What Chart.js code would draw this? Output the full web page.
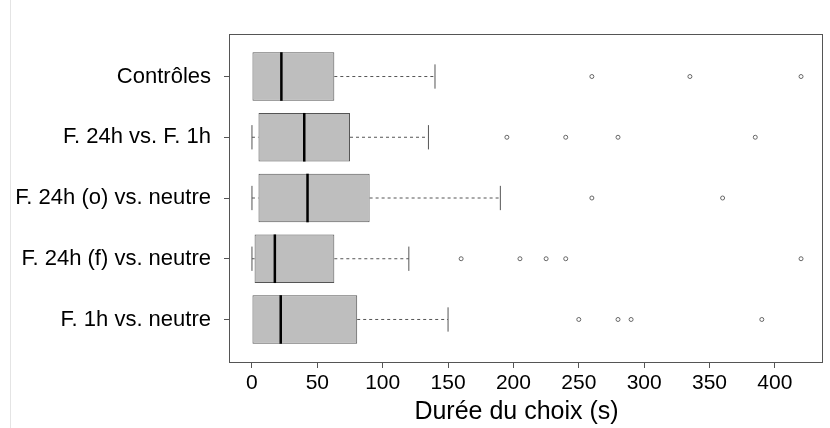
<!DOCTYPE html>
<html>
<head>
<meta charset="utf-8">
<script src="https://cdn.jsdelivr.net/npm/chart.js@4/dist/chart.umd.min.js"></script>
<style>
    body { margin: 0; background: #ffffff; }
    #cadre { position: relative; width: 830px; height: 428px; }
    #trait { position: absolute; left: 10px; top: 0; width: 1px; height: 428px; background: #e4e4e4; }
</style>
</head>
<body>
<div id="cadre">
    <div id="trait"></div>
    <canvas id="boites" width="830" height="428"></canvas>
</div>
<script>
const categories = ['Contrôles', 'F. 24h vs. F. 1h', 'F. 24h (o) vs. neutre', 'F. 24h (f) vs. neutre', 'F. 1h vs. neutre'];
const minimums = [0, 0, 0, 0, 0];
const quartile1 = [0, 5, 5, 2, 0];
const medianes = [22.5, 40, 42.5, 17.5, 22];
const quartile3 = [63, 75, 90, 63, 80.5];
const maximums = [140, 135, 190, 120, 150];
const atypiques = [
    [260, 335, 420],
    [195, 240, 280, 385],
    [260, 360],
    [160, 205, 225, 240, 420],
    [250, 280, 290, 390]
];
const ticksX = [0, 50, 100, 150, 200, 250, 300, 350, 400];
const rangs = [1, 2, 3, 4, 5];
const titreX = 'Durée du choix (s)';

const gris = '#555555';
const police = 'Liberation Sans, Arial, sans-serif';

window.onload = () => {
    desenharBoites();
}

// medianes, moustaches, cadre et titre de l'axe
const moustaches = {
    id: 'moustaches',
    afterDatasetsDraw(chart) {
        const ctx = chart.ctx;
        const x = chart.scales.x;
        const y = chart.scales.y;
        const zone = chart.chartArea;
        const unite = Math.abs(y.getPixelForValue(2) - y.getPixelForValue(1));

        ctx.save();
        for (let i = 0; i < categories.length; i++) {
            const yc = y.getPixelForValue(rangs[i]);
            const xq1 = x.getPixelForValue(quartile1[i]);
            const xq3 = x.getPixelForValue(quartile3[i]);
            const xmin = x.getPixelForValue(minimums[i]);
            const xmax = x.getPixelForValue(maximums[i]);

            ctx.strokeStyle = gris;
            ctx.lineWidth = 1;
            ctx.setLineDash([3, 3]);
            ctx.beginPath();
            ctx.moveTo(xq3, yc);
            ctx.lineTo(xmax, yc);
            if (xq1 > xmin) {
                ctx.moveTo(xmin, yc);
                ctx.lineTo(xq1, yc);
            }
            ctx.stroke();

            ctx.setLineDash([]);
            ctx.beginPath();
            ctx.moveTo(xmax, yc - unite * 0.2);
            ctx.lineTo(xmax, yc + unite * 0.2);
            if (xq1 > xmin) {
                ctx.moveTo(xmin, yc - unite * 0.2);
                ctx.lineTo(xmin, yc + unite * 0.2);
            }
            ctx.stroke();

            const xmed = x.getPixelForValue(medianes[i]);
            ctx.strokeStyle = '#000000';
            ctx.lineWidth = 2.5;
            ctx.beginPath();
            ctx.moveTo(xmed, yc - unite * 0.4);
            ctx.lineTo(xmed, yc + unite * 0.4);
            ctx.stroke();
        }

        ctx.strokeStyle = gris;
        ctx.lineWidth = 1;
        ctx.strokeRect(zone.left - 0.5, zone.top + 0.5, zone.right - zone.left, zone.bottom - zone.top);

        ctx.fillStyle = '#000000';
        ctx.font = '25px ' + police;
        ctx.textAlign = 'center';
        ctx.textBaseline = 'middle';
        ctx.fillText(titreX, (zone.left + zone.right) / 2 - 10, 412);
        ctx.restore();
    }
}

function desenharBoites() {
    const pontos = [];
    for (let i = 0; i < atypiques.length; i++) {
        for (let j = 0; j < atypiques[i].length; j++) {
            pontos.push({ x: atypiques[i][j], y: rangs[i] });
        }
    }

    const canvas = document.getElementById('boites');
    new Chart(canvas, {
        type: 'scatter',
        data: {
            datasets: [{
                type: 'bar',
                indexAxis: 'y',
                data: categories.map((c, i) => ({ y: rangs[i], x: [quartile1[i], quartile3[i]] })),
                backgroundColor: '#bebebe',
                borderColor: gris,
                borderWidth: 1,
                borderSkipped: false,
                categoryPercentage: 0.8,
                barPercentage: 1
            }, {
                type: 'scatter',
                data: pontos,
                pointRadius: 2,
                pointBorderWidth: 1,
                pointBorderColor: '#666666',
                pointBackgroundColor: '#ffffff'
            }]
        },
        options: {
            responsive: false,
            animation: false,
            layout: {
                padding: { top: 34, right: 7, left: 0, bottom: 0 }
            },
            scales: {
                x: {
                    type: 'linear',
                    min: -16.8,
                    max: 436.8,
                    offset: false,
                    afterBuildTicks: (scale) => {
                        scale.ticks = ticksX.map(v => ({ value: v }));
                    },
                    afterFit: (scale) => {
                        scale.height = 66;
                    },
                    border: { display: false },
                    grid: {
                        display: true,
                        drawOnChartArea: false,
                        drawTicks: true,
                        tickLength: 6,
                        tickColor: gris,
                        offset: false
                    },
                    ticks: {
                        color: '#000000',
                        padding: 3,
                        maxRotation: 0,
                        font: { family: police, size: 21 }
                    }
                },
                y: {
                    type: 'linear',
                    reverse: true,
                    min: 0.3,
                    max: 5.7,
                    offset: false,
                    afterBuildTicks: (scale) => {
                        scale.ticks = rangs.map(v => ({ value: v }));
                    },
                    afterFit: (scale) => {
                        scale.width = 230;
                    },
                    border: { display: false },
                    grid: {
                        display: true,
                        drawOnChartArea: false,
                        drawTicks: true,
                        tickLength: 6,
                        tickColor: gris,
                        offset: false
                    },
                    ticks: {
                        color: '#000000',
                        padding: 13,
                        callback: (v) => categories[v - 1],
                        font: { family: police, size: 22 }
                    }
                }
            },
            plugins: {
                legend: { display: false },
                tooltip: { enabled: false }
            }
        },
        plugins: [moustaches]
    });
}
</script>
</body>
</html>
